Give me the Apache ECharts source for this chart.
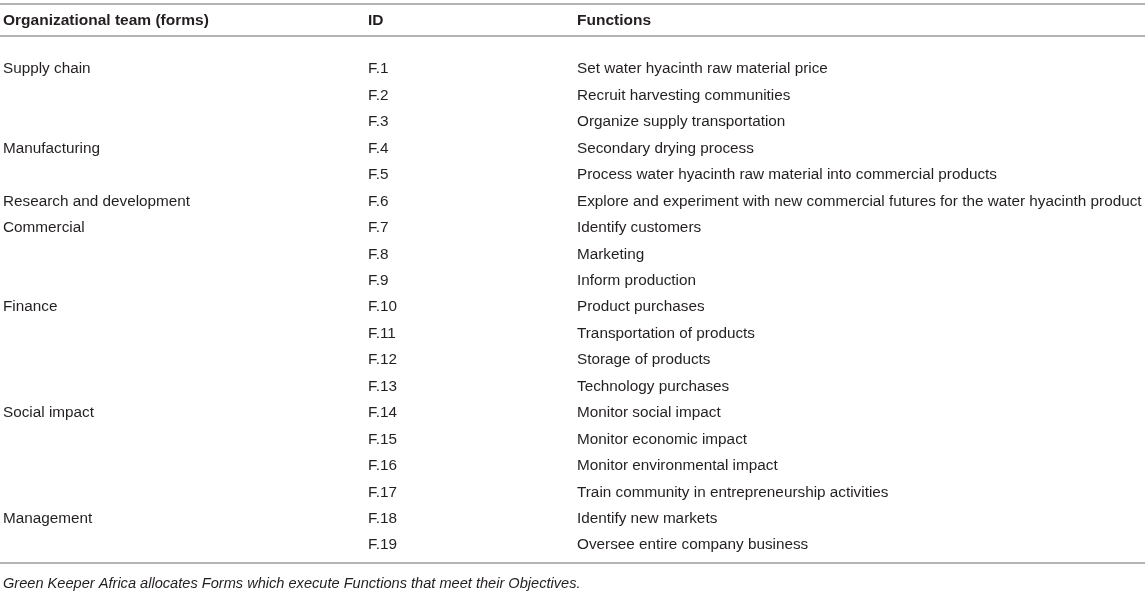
<!DOCTYPE html>
<html>
<head>
<meta charset="utf-8">
<script src="https://cdn.jsdelivr.net/npm/echarts@6/dist/echarts.min.js"></script>
<style>
  html, body { margin: 0; padding: 0; background: #fff; }
  #chart { width: 1145px; height: 593px; }
</style>
</head>
<body>
<div id="chart"></div>
<script>
var headers = ['Organizational team (forms)', 'ID', 'Functions'];

var teams = [
    'Supply chain', '', '',
    'Manufacturing', '',
    'Research and development',
    'Commercial', '', '',
    'Finance', '', '', '',
    'Social impact', '', '', '',
    'Management', ''
];

var ids = ['F.1', 'F.2', 'F.3', 'F.4', 'F.5', 'F.6', 'F.7', 'F.8', 'F.9', 'F.10',
    'F.11', 'F.12', 'F.13', 'F.14', 'F.15', 'F.16', 'F.17', 'F.18', 'F.19'];

var functions = [
    'Set water hyacinth raw material price',
    'Recruit harvesting communities',
    'Organize supply transportation',
    'Secondary drying process',
    'Process water hyacinth raw material into commercial products',
    'Explore and experiment with new commercial futures for the water hyacinth product',
    'Identify customers',
    'Marketing',
    'Inform production',
    'Product purchases',
    'Transportation of products',
    'Storage of products',
    'Technology purchases',
    'Monitor social impact',
    'Monitor economic impact',
    'Monitor environmental impact',
    'Train community in entrepreneurship activities',
    'Identify new markets',
    'Oversee entire company business'
];

var footnote = 'Green Keeper Africa allocates Forms which execute Functions that meet their Objectives.';

var myChart = echarts.init(document.getElementById('chart'));

var FONT = '"Liberation Sans", Arial, Helvetica, sans-serif';
var TXT = '#231f20';
var RULE = '#b4b4b4';
var colX = [3, 368, 577];

var rows = ids.map(function (id, i) { return [i]; });

function rule(y) {
    return {
        type: 'rect',
        left: 0,
        top: y,
        shape: { width: 1145, height: 2 },
        style: { fill: RULE },
        silent: true
    };
}

function label(x, y, text, font) {
    return {
        type: 'text',
        x: x,
        y: y,
        style: { text: text, fill: TXT, font: font, textVerticalAlign: 'middle', textAlign: 'left' },
        silent: true
    };
}

var option = {
    animation: false,
    backgroundColor: '#fff',
    grid: { left: 0, right: 0, top: 56, bottom: 34.6 },
    xAxis: { type: 'value', min: 0, max: 1, show: false },
    yAxis: {
        type: 'category',
        data: ids,
        inverse: true,
        show: false
    },
    graphic: [
        rule(3),
        rule(35),
        rule(562),
        label(colX[0], 21, headers[0], 'bold 15.5px ' + FONT),
        label(colX[1], 21, headers[1], 'bold 15.5px ' + FONT),
        label(colX[2], 21, headers[2], 'bold 15.5px ' + FONT),
        label(colX[0], 584, footnote, 'italic 14.6px ' + FONT)
    ],
    series: [{
        type: 'custom',
        data: rows,
        encode: { y: 0 },
        renderItem: function (params, api) {
            var i = api.value(0);
            var y = api.coord([0, i])[1];
            var cells = [teams[i], ids[i], functions[i]];
            return {
                type: 'group',
                children: cells.map(function (t, c) {
                    return {
                        type: 'text',
                        x: colX[c],
                        y: y,
                        style: {
                            text: t,
                            fill: TXT,
                            font: '15.3px ' + FONT,
                            textVerticalAlign: 'middle',
                            textAlign: 'left'
                        }
                    };
                })
            };
        }
    }]
};

myChart.setOption(option);
</script>
</body>
</html>
